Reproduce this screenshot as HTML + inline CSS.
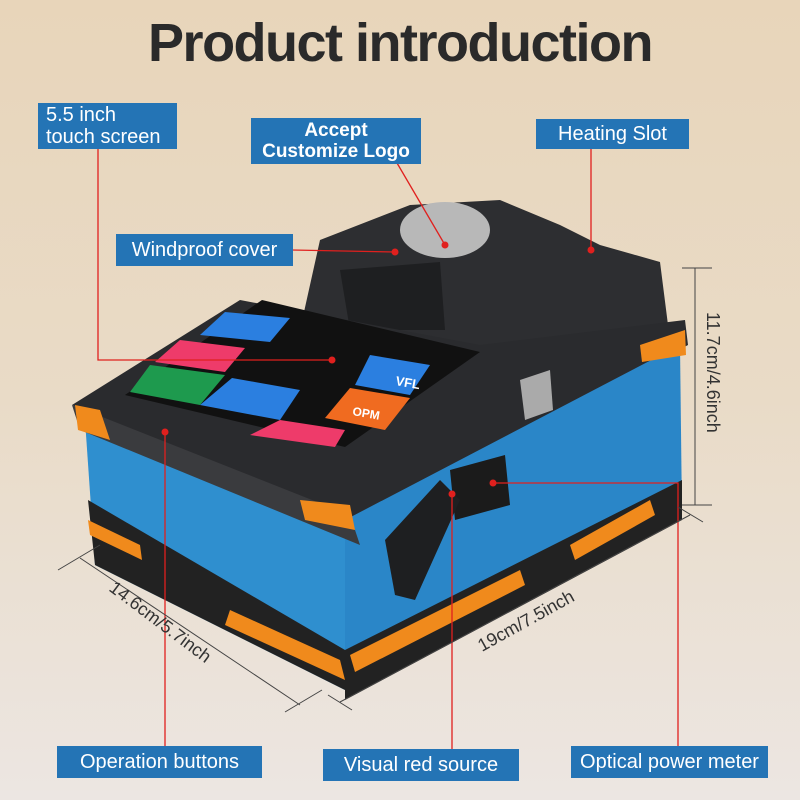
<!DOCTYPE html>
<html><head><style>
body{margin:0;width:800px;height:800px;overflow:hidden;background:linear-gradient(#e8d5ba 0%,#e9dbc7 50%,#ece6e2 100%);font-family:"Liberation Sans",sans-serif;position:relative}
.t{position:absolute;left:0;width:800px;top:12px;text-align:center;font-size:54px;font-weight:bold;color:#2a2a2a;letter-spacing:-1.5px}
.b{position:absolute;background:#2474b5;color:#fff;font-size:20px;line-height:22px;box-sizing:border-box;padding:0 8px;display:flex;align-items:center}
svg{position:absolute;left:0;top:0}
</style></head><body>
<div class="t">Product introduction</div>
<svg width="800" height="800">
<path d="M300,330 L320,240 L410,205 L500,200 L560,225 L600,245 L660,262 L668,325 L480,350 Z" fill="#2d2e31"/>
<ellipse cx="445" cy="230" rx="45" ry="28" fill="#b8b8b8"/>
<path d="M340,270 L440,262 L445,330 L350,330Z" fill="#1e1f21"/>
<path d="M72,405 L240,300 L480,345 L685,320 L688,345 L350,530 L340,515 Z" fill="#2a2b2e"/>
<path d="M85,420 L345,520 L345,690 L95,565 Z" fill="#2f8fcf"/>
<path d="M345,520 L680,345 L682,515 L345,690 Z" fill="#2a86c8"/>
<path d="M88,500 L95,565 L345,690 L345,650 Z" fill="#222"/>
<path d="M345,650 L345,700 L682,520 L682,480 Z" fill="#222"/>
<path d="M230,610 L340,660 L345,680 L225,625Z" fill="#f08a1c"/>
<path d="M350,655 L520,570 L525,585 L355,672Z" fill="#f08a1c"/>
<path d="M570,545 L650,500 L655,515 L575,560Z" fill="#f08a1c"/>
<path d="M88,520 L140,545 L142,560 L90,535Z" fill="#f08a1c"/>
<path d="M72,405 L350,515 L360,545 L80,430 Z" fill="#3a3b3e"/>
<path d="M75,405 L100,410 L110,440 L78,430Z" fill="#f08a1c"/>
<path d="M300,500 L350,505 L355,530 L305,520Z" fill="#f08a1c"/>
<path d="M640,345 L685,330 L686,355 L642,362Z" fill="#f08a1c"/>
<path d="M125,395 L262,300 L480,352 L345,447 Z" fill="#111"/>
<path d="M225,312 L290,318 L270,342 L200,335Z" fill="#2b7fe0"/>
<path d="M180,340 L245,348 L225,372 L155,362Z" fill="#ee3b6a"/>
<path d="M150,365 L225,375 L200,405 L130,392Z" fill="#1e9a4e"/>
<path d="M232,378 L300,390 L280,420 L200,405Z" fill="#2b7fe0"/>
<path d="M280,420 L345,430 L335,447 L250,435Z" fill="#ee3b6a"/>
<path d="M370,355 L430,365 L410,395 L355,385Z" fill="#2b7fe0"/>
<path d="M350,388 L410,398 L385,430 L325,418Z" fill="#f06b20"/>
<text x="395" y="385" fill="#fff" font-size="13" font-weight="bold" transform="rotate(10 395 385)">VFL</text>
<text x="352" y="415" fill="#fff" font-size="12" font-weight="bold" transform="rotate(10 352 415)">OPM</text>
<path d="M450,470 L505,455 L510,505 L455,520Z" fill="#1b1b1b"/>
<path d="M385,540 L440,480 L460,500 L415,600 L395,595Z" fill="#1e1f21"/>
<path d="M520,380 L550,370 L553,410 L525,420Z" fill="#aaa"/>
<g stroke="#e0201e" stroke-width="1.3" fill="none">
<path d="M98,148 L98,360 L332,360"/>
<path d="M397,163 L445,245"/>
<path d="M591,149 L591,250"/>
<path d="M292,250 L395,252"/>
<path d="M165,432 L165,746"/>
<path d="M452,494 L452,749"/>
<path d="M493,483 L678,483 L678,746"/>
</g>
<g fill="#e0201e"><circle cx="332" cy="360" r="3.5"/><circle cx="445" cy="245" r="3.5"/><circle cx="591" cy="250" r="3.5"/><circle cx="395" cy="252" r="3.5"/><circle cx="165" cy="432" r="3.5"/><circle cx="452" cy="494" r="3.5"/><circle cx="493" cy="483" r="3.5"/></g>
<g stroke="#444" stroke-width="1" fill="none">
<path d="M695,268 L695,505 M682,268 L712,268 M682,505 L712,505"/>
<path d="M80,558 L300,705 M58,570 L100,545 M285,712 L322,690"/>
<path d="M340,702 L690,515 M328,695 L352,710 M678,507 L703,522"/>
</g>
<text x="707" y="312" font-size="18" fill="#333" transform="rotate(90 707 312)">11.7cm/4.6inch</text>
<text x="108" y="590" font-size="18" fill="#333" transform="rotate(37 108 590)">14.6cm/5.7inch</text>
<text x="482" y="652" font-size="18" fill="#333" transform="rotate(-29 482 652)">19cm/7.5inch</text>
</svg>
<div class="b" style="left:38px;top:103px;width:139px;height:46px">5.5 inch<br>touch screen</div>
<div class="b" style="left:251px;top:118px;width:170px;height:46px;font-weight:bold;justify-content:center;text-align:center;font-size:19px;line-height:21px">Accept<br>Customize Logo</div>
<div class="b" style="left:536px;top:119px;width:153px;height:30px;justify-content:center">Heating Slot</div>
<div class="b" style="left:116px;top:234px;width:177px;height:32px;justify-content:center">Windproof cover</div>
<div class="b" style="left:57px;top:746px;width:205px;height:32px;justify-content:center">Operation buttons</div>
<div class="b" style="left:323px;top:749px;width:196px;height:32px;justify-content:center">Visual red source</div>
<div class="b" style="left:571px;top:746px;width:197px;height:32px;justify-content:center">Optical power meter</div>
</body></html>
